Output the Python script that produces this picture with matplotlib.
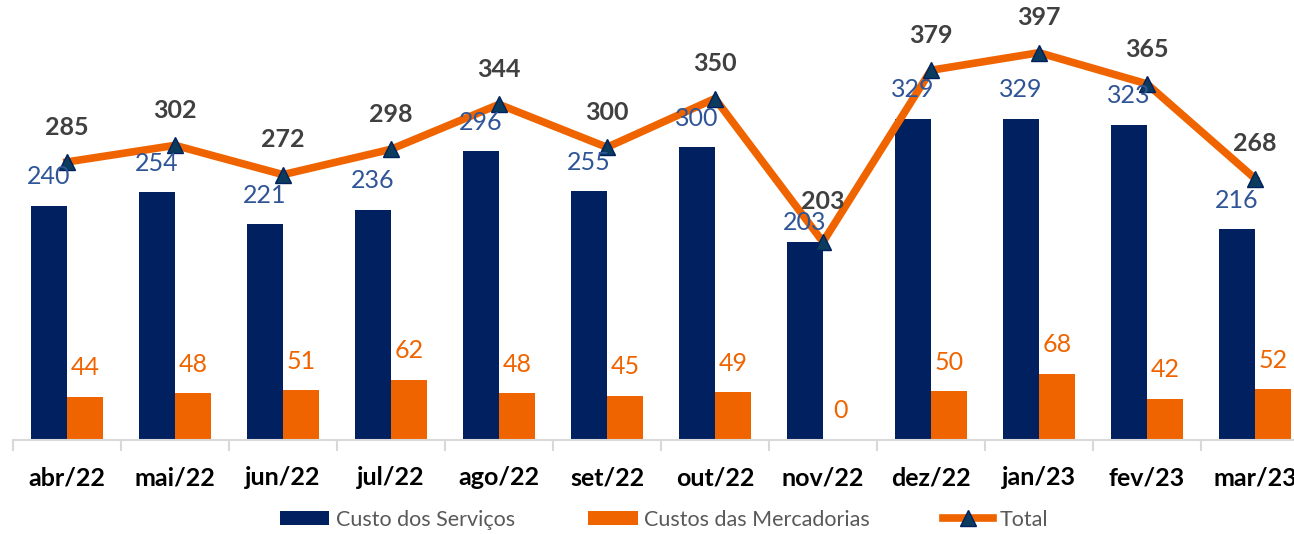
import numpy as np
import matplotlib.pyplot as plt
from matplotlib.lines import Line2D
from matplotlib.patches import Patch

# Dados (R$ mil)
meses = ['abr/22', 'mai/22', 'jun/22', 'jul/22', 'ago/22', 'set/22',
         'out/22', 'nov/22', 'dez/22', 'jan/23', 'fev/23', 'mar/23']
custo_servicos = [240, 254, 221, 236, 296, 255, 300, 203, 329, 329, 323, 216]
custo_mercadorias = [44, 48, 51, 62, 48, 45, 49, 0, 50, 68, 42, 52]
total = [285, 302, 272, 298, 344, 300, 350, 203, 379, 397, 365, 268]

navy = '#00205F'
orange = '#F06400'
label_blue = '#2F5597'
dark_gray = '#404040'

plt.rcParams['font.family'] = ['Lato', 'DejaVu Sans']

fig = plt.figure(figsize=(12.94, 5.34), dpi=100)
ax = fig.add_axes([13 / 1294, 94 / 534, 1 - 13 / 1294, 440 / 534])

x = np.arange(len(meses))
w = 0.333

ax.bar(x - w / 2, custo_servicos, w, color=navy, zorder=2)
ax.bar(x + w / 2, custo_mercadorias, w, color=orange, zorder=2)
ax.plot(x, total, color=orange, lw=5.5, marker='^', markersize=11,
        markerfacecolor='#0B3C5D', markeredgecolor=navy, markeredgewidth=1,
        zorder=3)

# rótulos de dados
for i in range(len(meses)):
    off_bar = 14 if i == 7 else 21
    off_tot = 29 if i == 7 else 25
    ax.annotate(str(custo_servicos[i]), (x[i] - w / 2, custo_servicos[i]),
                xytext=(0, off_bar), textcoords='offset points',
                ha='center', va='center', fontsize=18, color=label_blue, zorder=4)
    ax.annotate(str(custo_mercadorias[i]), (x[i] + w / 2, custo_mercadorias[i]),
                xytext=(0, 21), textcoords='offset points',
                ha='center', va='center', fontsize=18, color=orange, zorder=4)
    ax.annotate(str(total[i]), (x[i], total[i]),
                xytext=(0, off_tot), textcoords='offset points',
                ha='center', va='center', fontsize=18, fontweight='bold',
                color=dark_gray, zorder=4)

for s in ['top', 'right', 'left']:
    ax.spines[s].set_visible(False)
ax.spines['bottom'].set_color('#D9D9D9')
ax.spines['bottom'].set_linewidth(1.5)
ax.set_yticks([])

ax.set_xticks(x)
ax.set_xticklabels(meses, fontsize=18, fontweight='bold', color='black')
ax.tick_params(axis='x', which='major', length=0, pad=19)
ax.set_xticks(np.arange(-0.5, len(meses), 1), minor=True)
ax.tick_params(axis='x', which='minor', length=8, width=1.5, color='#D9D9D9')

# limites depois dos ticks (o último grupo fica cortado na borda)
ax.set_xlim(-0.5, (1294 - 67) / 108)
ax.set_ylim(0, 451)

handles = [
    Patch(facecolor=navy, label='Custo dos Serviços'),
    Patch(facecolor=orange, label='Custos das Mercadorias'),
    Line2D([], [], color=orange, lw=5.5, marker='^', markersize=11,
           markerfacecolor='#0B3C5D', markeredgecolor=navy, label='Total'),
]
leg = fig.legend(handles=handles, loc='center', bbox_to_anchor=(0.513, 0.027),
                 ncol=3, frameon=False, fontsize=15.5, handlelength=2.3,
                 handleheight=0.6, handletextpad=0.3, columnspacing=3.4)
for t in leg.get_texts():
    t.set_color('#595959')

fig.savefig('out.png', dpi=100)
